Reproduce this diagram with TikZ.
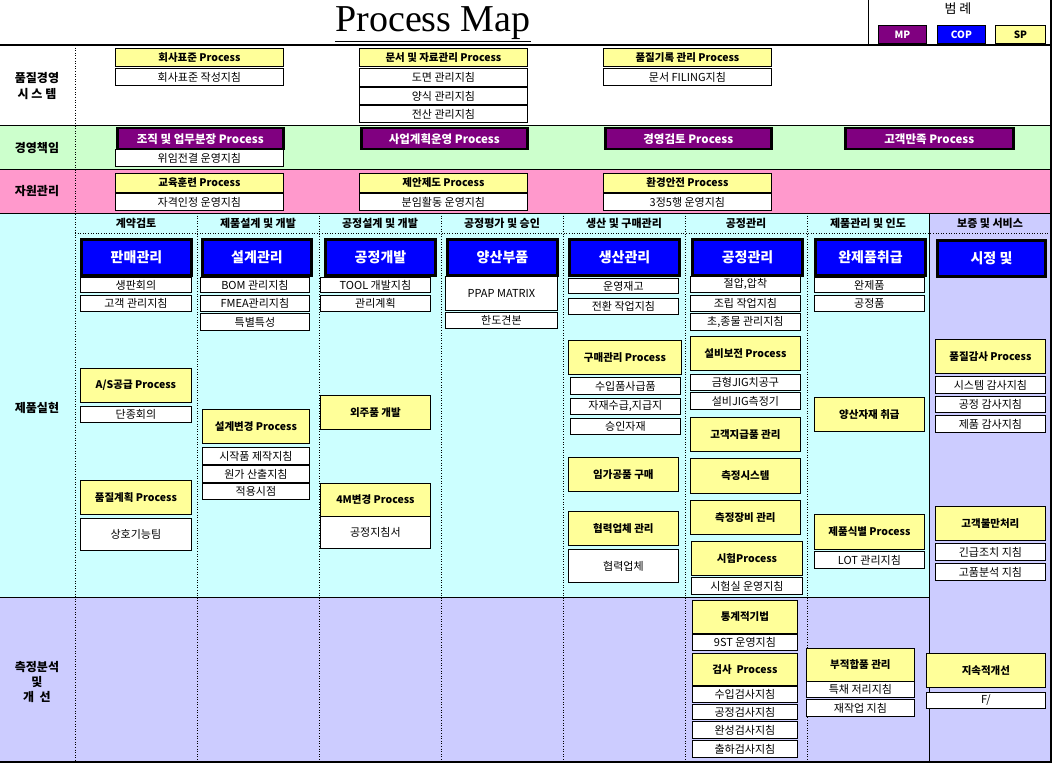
\documentclass[tikz,border=0pt]{standalone}
\usepackage{fontspec}
\setmainfont{Noto Sans CJK KR}
\newfontfamily\serifm{Liberation Serif}
\definecolor{cyb}{HTML}{CCFFFF}
\definecolor{lav}{HTML}{CCCCFF}
\definecolor{grn}{HTML}{CCFFCC}
\definecolor{pnk}{HTML}{FF99CC}
\definecolor{yel}{HTML}{FFFF99}
\definecolor{pur}{HTML}{800080}
\tikzset{
 base/.style={draw=black,line width=0.8pt,inner sep=0pt,anchor=north west,align=center},
 wb/.style={base,fill=white,font=\fontsize{11}{12}\selectfont},
 sp/.style={base,fill=yel,font=\bfseries\fontsize{10.5}{11}\selectfont},
 mp/.style={base,fill=pur,text=white,line width=2.5pt,font=\bfseries\fontsize{11.5}{12}\selectfont},
 cop/.style={base,fill=blue,text=white,line width=3pt,font=\bfseries\fontsize{14}{15}\selectfont},
 hdr/.style={font=\bfseries\fontsize{11}{12}\selectfont},
 rl/.style={font=\bfseries\fontsize{12}{14}\selectfont,align=center},
 dv/.style={dotted,line width=0.6pt}
}
\newcommand\bx[7]{\node[#1,minimum width=#5pt,minimum height=#6pt] (#2) at (#3,#4) {#7};}
\begin{document}
\begin{tikzpicture}[x=1pt,y=-1pt]
\useasboundingbox (0,0) rectangle (1056,767);
\fill[white] (0,0) rectangle (1056,767);
% backgrounds
\fill[grn] (0,125) rectangle (1050,169);
\fill[pnk] (0,169) rectangle (1050,213);
\fill[cyb] (0,213) rectangle (929,597);
\fill[lav] (0,597) rectangle (929,762);
\fill[lav] (929,213) rectangle (1050,762);
\draw[line width=0.6pt] (0,125) -- (1050,125) (0,169) -- (1050,169) (0,213) -- (1050,213) (0,597) -- (929,597);
\draw[line width=0.6pt] (929,213) -- (929,762);
\draw[dv] (75,45) -- (75,762);
\foreach \x in {197,319,441,563,685,807}{\draw[dv] (\x,213) -- (\x,762);}
\draw[dv] (75,233) -- (1050,233);
\draw[line width=2pt] (0,45) -- (1052,45);
\draw[line width=2pt] (0,762) -- (1052,762);
\draw[line width=2pt] (1051,0) -- (1051,762);
\draw[line width=0.5pt] (868,0) -- (868,45);
% title
\node[font=\serifm\fontsize{38}{40}\selectfont] (title) at (433,24) {\underline{Process Map}};
% legend
\node[font=\fontsize{13}{14}\selectfont] (lg) at (958,9) {범 례};
\node[base,fill=pur,text=white,minimum width=48pt,minimum height=18pt,font=\bfseries\fontsize{10}{11}\selectfont] (lmp) at (878,25) {MP};
\node[base,fill=blue,text=white,minimum width=48pt,minimum height=18pt,font=\bfseries\fontsize{10}{11}\selectfont] (lcop) at (937,25) {COP};
\node[base,fill=yel,minimum width=50pt,minimum height=18pt,font=\bfseries\fontsize{10}{11}\selectfont] (lsp) at (995,25) {SP};
% row labels
\node[rl] (r1) at (37,86) {품질경영\\[2pt]시 스 템};
\node[rl] (r2) at (37,148) {경영책임};
\node[rl] (r3) at (37,191) {자원관리};
\node[rl] (r4) at (37,408) {제품실현};
\node[rl] (r5) at (37,682) {측정분석\\[1pt]및\\[1pt]개 \ 선};
% column headers
\foreach \t/\x [count=\i] in {계약검토/136,제품설계 및 개발/258,공정설계 및 개발/380,공정평가 및 승인/502,생산 및 구매관리/624,공정관리/746,제품관리 및 인도/868,보증 및 서비스/990}{\node[hdr] (h\i) at (\x,223) {\t};}
% quality system
\bx{sp}{a1}{115}{48}{168}{18}{회사표준 Process}
\bx{wb}{a2}{115}{68}{168}{17}{회사표준 작성지침}
\bx{sp}{b1}{359}{48}{168}{18}{문서 및 자료관리 Process}
\bx{wb}{b2}{359}{68}{168}{18}{도면 관리지침}
\bx{wb}{b3}{359}{87}{168}{17}{양식 관리지침}
\bx{wb}{b4}{359}{105}{168}{17}{전산 관리지침}
\bx{sp}{c1}{603}{48}{168}{18}{품질기록 관리 Process}
\bx{wb}{c2}{603}{68}{168}{17}{문서 FILING지침}
% management
\bx{mp}{m1}{116}{127}{166}{21}{조직 및 업무분장 Process}
\bx{wb}{m1a}{115}{149}{168}{17}{위임전결 운영지침}
\bx{mp}{m2}{360}{127}{166}{21}{사업계획운영 Process}
\bx{mp}{m3}{604}{127}{166}{21}{경영검토 Process}
\bx{mp}{m4}{844}{127}{168}{21}{고객만족 Process}
% resources
\bx{sp}{s1}{115}{173}{168}{19}{교육훈련 Process}
\bx{wb}{s1a}{115}{193}{168}{17}{자격인정 운영지침}
\bx{sp}{s2}{359}{173}{168}{19}{제안제도 Process}
\bx{wb}{s2a}{359}{193}{168}{17}{분임활동 운영지침}
\bx{sp}{s3}{603}{173}{168}{19}{환경안전 Process}
\bx{wb}{s3a}{603}{193}{168}{17}{3정5행 운영지침}
% COP headers
\bx{cop}{p1}{80}{238}{110}{36}{판매관리}
\bx{cop}{p2}{201}{238}{109}{36}{설계관리}
\bx{cop}{p3}{324}{238}{110}{36}{공정개발}
\bx{cop}{p4}{446}{238}{110}{36}{양산부품}
\bx{cop}{p5}{568}{238}{110}{36}{생산관리}
\bx{cop}{p6}{691}{238}{110}{36}{공정관리}
\bx{cop}{p7}{814}{238}{110}{36}{완제품취급}
\bx{cop}{p8}{936}{239}{108}{36}{시정 및}
% col1
\bx{wb}{k1}{80}{277}{111}{15}{생판회의}
\bx{wb}{k2}{80}{295}{111}{16}{고객 관리지침}
\bx{sp}{k3}{80}{368}{111}{34}{A/S공급 Process}
\bx{wb}{k4}{80}{406}{111}{16}{단종회의}
\bx{sp}{k5}{80}{480}{111}{34}{품질계획 Process}
\bx{wb}{k6}{80}{518}{111}{32}{상호기능팀}
% col2
\bx{wb}{d1}{200}{277}{109}{15}{BOM 관리지침}
\bx{wb}{d2}{200}{295}{109}{16}{FMEA관리지침}
\bx{wb}{d3}{200}{313}{109}{17}{특별특성}
\bx{sp}{d4}{202}{409}{107}{34}{설계변경 Process}
\bx{wb}{d5}{202}{447}{107}{17}{시작품 제작지침}
\bx{wb}{d6}{202}{465}{107}{17}{원가 산출지침}
\bx{wb}{d7}{202}{483}{107}{16}{적용시점}
% col3
\bx{wb}{e1}{320}{277}{110}{15}{TOOL 개발지침}
\bx{wb}{e2}{320}{295}{110}{16}{관리계획}
\bx{sp}{e3}{320}{395}{110}{34}{외주품 개발}
\bx{sp}{e4}{320}{483}{110}{33}{4M변경 Process}
\bx{wb}{e5}{320}{516}{110}{32}{공정지침서}
% col4
\bx{wb}{f1}{445}{276}{112}{34}{PPAP MATRIX}
\bx{wb}{f2}{445}{312}{112}{16}{한도견본}
% col5
\bx{wb}{g1}{568}{278}{110}{15}{운영재고}
\bx{wb}{g2}{568}{298}{110}{16}{전환 작업지침}
\bx{sp}{g3}{568}{340}{113}{34}{구매관리 Process}
\bx{wb}{g4}{570}{377}{110}{17}{수입품사급품}
\bx{wb}{g5}{570}{398}{110}{16}{자재수급,지급지}
\bx{wb}{g6}{570}{418}{110}{16}{승인자재}
\bx{sp}{g7}{568}{457}{110}{34}{임가공품 구매}
\bx{sp}{g8}{568}{511}{110}{34}{협력업체 관리}
\bx{wb}{g9}{568}{549}{110}{33}{협력업체}
% col6
\bx{wb}{j1}{690}{276}{110}{16}{절압,압착}
\bx{wb}{j2}{690}{295}{110}{16}{조립 작업지침}
\bx{wb}{j3}{690}{313}{110}{17}{초,종물 관리지침}
\bx{sp}{j4}{690}{336}{110}{34}{설비보전 Process}
\bx{wb}{j5}{690}{374}{110}{16}{금형JIG치공구}
\bx{wb}{j6}{690}{392}{110}{17}{설비JIG측정기}
\bx{sp}{j7}{690}{417}{110}{34}{고객지급품 관리}
\bx{sp}{j8}{690}{458}{110}{35}{측정시스템}
\bx{sp}{j9}{690}{500}{110}{34}{측정장비 관리}
\bx{sp}{j10}{691}{541}{111}{34}{시험Process}
\bx{wb}{j11}{691}{577}{111}{17}{시험실 운영지침}
\bx{sp}{j12}{692}{600}{105}{33}{통계적기법}
\bx{wb}{j13}{692}{634}{105}{16}{9ST 운영지침}
\bx{sp}{j14}{692}{653}{105}{32}{검사 \ Process}
\bx{wb}{j15}{692}{686}{105}{16}{수입검사지침}
\bx{wb}{j16}{692}{704}{105}{15}{공정검사지침}
\bx{wb}{j17}{692}{721}{105}{17}{완성검사지침}
\bx{wb}{j18}{692}{740}{105}{17}{출하검사지침}
% col7
\bx{wb}{n1}{814}{277}{110}{15}{완제품}
\bx{wb}{n2}{814}{295}{110}{16}{공정품}
\bx{sp}{n3}{814}{397}{110}{34}{양산자재 취급}
\bx{sp}{n4}{814}{514}{110}{35}{제품식별 Process}
\bx{wb}{n5}{814}{551}{110}{17}{LOT 관리지침}
\bx{sp}{n6}{806}{648}{108}{33}{부적합품 관리}
\bx{wb}{n7}{806}{681}{108}{16}{특채 저리지침}
\bx{wb}{n8}{806}{699}{108}{17}{재작업 지침}
% col8
\bx{sp}{q1}{935}{339}{110}{34}{품질감사 Process}
\bx{wb}{q2}{935}{376}{110}{17}{시스템 감사지침}
\bx{wb}{q3}{935}{396}{110}{16}{공정 감사지침}
\bx{wb}{q4}{935}{415}{110}{17}{제품 감사지침}
\bx{sp}{q5}{935}{506}{110}{34}{고객불만처리}
\bx{wb}{q6}{935}{543}{110}{17}{긴급조치 지침}
\bx{wb}{q7}{935}{563}{110}{17}{고품분석 지침}
\bx{sp}{q8}{926}{653}{119}{34}{지속적개선}
\bx{wb}{q9}{926}{692}{119}{16}{F/}
\end{tikzpicture}
\end{document}
